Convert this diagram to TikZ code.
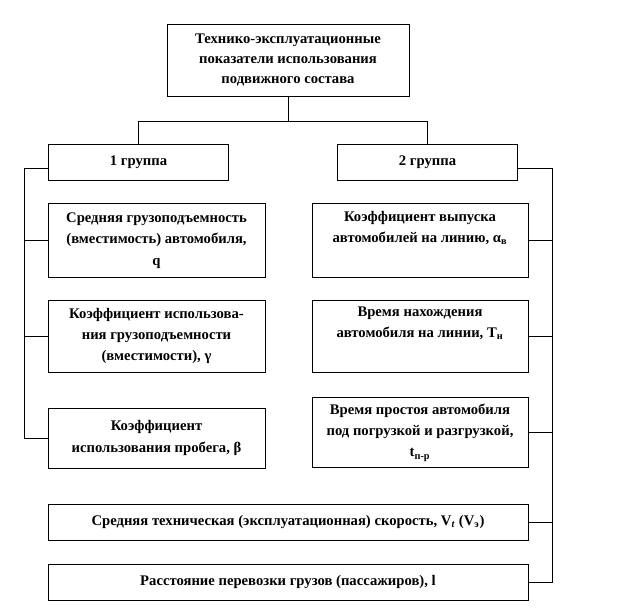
\documentclass[tikz,border=0pt]{standalone}
\usepackage{fontspec}
\setmainfont{Liberation Serif}
\tikzset{
    box/.style={draw, line width=0.6pt, align=center, inner sep=1pt,
        font=\bfseries\fontsize{11}{16}\selectfont},
    link/.style={line width=0.6pt}
}
\begin{document}
\begin{tikzpicture}[x=0.75pt, y=-0.75pt]
    \useasboundingbox (0, 0) rectangle (624, 612);

    % Root
    \node[box, minimum width=181.5pt, minimum height=54pt, font=\bfseries\fontsize{11}{15}\selectfont] (top) at (288, 60)
        {Технико-эксплуатационные\\показатели использования\\подвижного состава};

    % Groups
    \node[box, minimum width=135.5pt, minimum height=27pt] (g1) at (138.5, 162) {1 группа};
    \node[box, minimum width=134.5pt, minimum height=27pt] (g2) at (427.5, 162) {2 группа};
    \coordinate (fork) at (288, 121);
    \draw[link] (top.south) -- (fork);
    \draw[link] (fork) -| (g1.north);
    \draw[link] (fork) -| (g2.north);

    % 1 group
    \begin{scope}[every node/.style={box, minimum width=162.75pt}]
        \node[minimum height=55pt] (q) at (156.5, 240.5)
            {Средняя грузоподъемность\\(вместимость) автомобиля,\\q};
        \node[minimum height=54pt] (gam) at (156.5, 336)
            {Коэффициент использова-\\ния грузоподъемности\\(вместимости), γ};
        \node[minimum height=45pt] (bet) at (156.5, 438)
            {Коэффициент\\использования пробега, β};
    \end{scope}
    \coordinate (lbus) at (24, 168);
    \draw[link] (g1.west |- lbus) -- (lbus) |- (bet.west);
    \draw[link] (q.west) -- (q.west -| lbus);
    \draw[link] (gam.west) -- (gam.west -| lbus);

    % 2 group
    \begin{scope}[every node/.style={box, minimum width=162pt}]
        \node[minimum height=55pt] (alf) at (420, 240.5)
            {Коэффициент выпуска\\автомобилей на линию, α\textsubscript{в}\\\strut};
        \node[minimum height=54pt] (tn) at (420, 336)
            {Время нахождения\\автомобиля на линии, Т\textsubscript{н}\\\strut};
        \node[minimum height=53pt] (tpr) at (420, 432.5)
            {Время простоя автомобиля\\под погрузкой и разгрузкой,\\t\textsubscript{п-р}};
    \end{scope}

    % Common
    \node[box, minimum width=360pt, minimum height=27pt] (vt) at (288, 522)
        {Средняя техническая (эксплуатационная) скорость, V\textsubscript{\textit{t}} (V\textsubscript{э})};
    \node[box, minimum width=360pt, minimum height=27pt] (dist) at (288, 582)
        {Расстояние перевозки грузов (пассажиров), l};

    \coordinate (rbus) at (552, 168);
    \draw[link] (g2.east |- rbus) -- (rbus) |- (dist.east);
    \foreach \n in {alf, tn, tpr, vt}
        \draw[link] (\n.east) -- (\n.east -| rbus);
\end{tikzpicture}
\end{document}
